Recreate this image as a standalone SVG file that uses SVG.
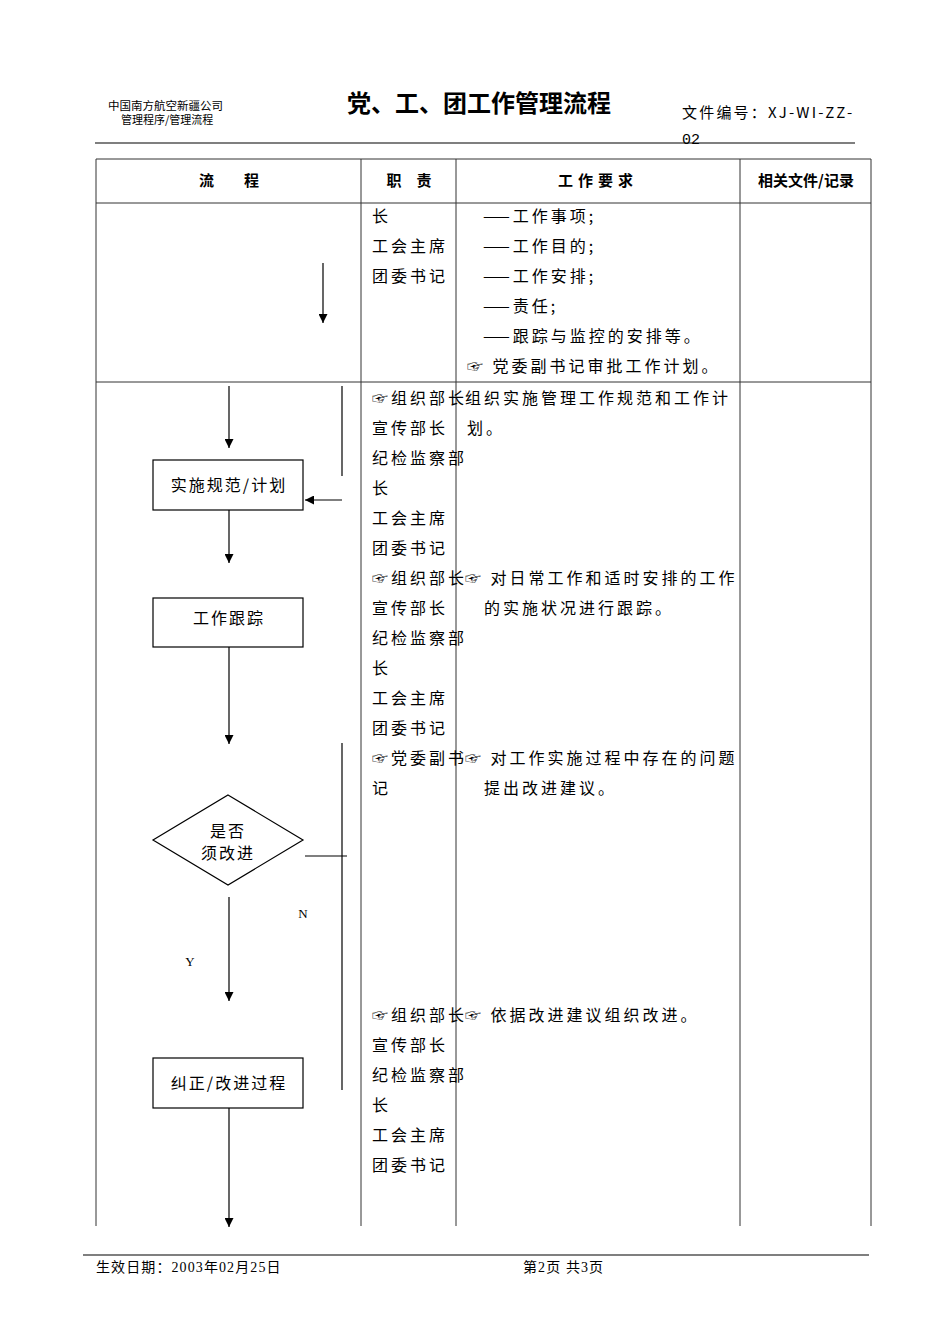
<svg xmlns="http://www.w3.org/2000/svg" width="950" height="1344" viewBox="0 0 950 1344">
<style>
.t{font-family:"Noto Sans CJK SC","DejaVu Sans",sans-serif;font-size:16px;letter-spacing:3px;fill:#000}
.h{font-family:"Noto Sans CJK SC",sans-serif;font-size:15px;font-weight:bold;fill:#000}
.s{font-family:"Liberation Serif","Noto Sans CJK SC",serif;font-size:13px;fill:#000}
.f{font-family:"Liberation Serif","Noto Sans CJK SC",serif;font-size:14px;letter-spacing:1.1px;fill:#000}
.grid{stroke:#333;stroke-width:1;fill:none}
.ln{stroke:#000;stroke-width:1.2;fill:none}
.box{fill:#fff;stroke:#000;stroke-width:1.2}
.bt{font-family:"Noto Sans CJK SC",sans-serif;font-size:16px;letter-spacing:2px;fill:#000;text-anchor:middle}
</style>
<defs>
<marker id="ah" viewBox="0 0 10 10" refX="10" refY="5" markerWidth="9" markerHeight="9" markerUnits="userSpaceOnUse" orient="auto"><path d="M0,0 L10,5 L0,10 z" fill="#000"/></marker>
</defs>
<g id="header">
<text x="108" y="110" style="font-family:'Noto Sans CJK SC',sans-serif;font-size:11.5px">中国南方航空新疆公司</text>
<text x="121" y="124" style="font-family:'Noto Sans CJK SC',sans-serif;font-size:11px">管理程序/管理流程</text>
<text x="479" y="112" text-anchor="middle" style="font-family:'Noto Sans CJK SC',sans-serif;font-size:24px;font-weight:bold">党、工、团工作管理流程</text>
<text x="682" y="118" style="font-family:'Noto Sans CJK SC','Liberation Mono',monospace;font-size:15px;letter-spacing:2.2px">文件编号：XJ-WI-ZZ-</text>
<text x="682" y="144" style="font-family:'Liberation Mono',monospace;font-size:15px">02</text>
<line x1="95" y1="143" x2="855" y2="143" stroke="#000" stroke-width="1.2"/>
</g>
<g id="table">
<line class="grid" x1="96" y1="159" x2="871" y2="159"/>
<line class="grid" x1="96" y1="203" x2="871" y2="203"/>
<line class="grid" x1="96" y1="382" x2="871" y2="382"/>
<line class="grid" x1="96" y1="159" x2="96" y2="1226"/>
<line class="grid" x1="361" y1="159" x2="361" y2="1226"/>
<line class="grid" x1="456" y1="159" x2="456" y2="1226" stroke="#777"/>
<line class="grid" x1="740" y1="159" x2="740" y2="1226" stroke="#777"/>
<line class="grid" x1="871" y1="159" x2="871" y2="1226"/>
<text class="h" x="229" y="186" text-anchor="middle">流　　程</text>
<text class="h" x="409" y="186" text-anchor="middle">职　责</text>
<text class="h" x="598" y="186" text-anchor="middle" letter-spacing="5">工作要求</text>
<text class="h" x="806" y="186" text-anchor="middle">相关文件/记录</text>
</g>
<g id="col2">
<text class="t" x="372" y="222">长</text>
<text class="t" x="372" y="252">工会主席</text>
<text class="t" x="372" y="282">团委书记</text>
<text class="t" x="372" y="404">☞组织部长</text>
<text class="t" x="372" y="434">宣传部长</text>
<text class="t" x="372" y="464">纪检监察部</text>
<text class="t" x="372" y="494">长</text>
<text class="t" x="372" y="524">工会主席</text>
<text class="t" x="372" y="554">团委书记</text>
<text class="t" x="372" y="584">☞组织部长</text>
<text class="t" x="372" y="614">宣传部长</text>
<text class="t" x="372" y="644">纪检监察部</text>
<text class="t" x="372" y="674">长</text>
<text class="t" x="372" y="704">工会主席</text>
<text class="t" x="372" y="734">团委书记</text>
<text class="t" x="372" y="764">☞党委副书</text>
<text class="t" x="372" y="794">记</text>
<text class="t" x="372" y="1021">☞组织部长</text>
<text class="t" x="372" y="1051">宣传部长</text>
<text class="t" x="372" y="1081">纪检监察部</text>
<text class="t" x="372" y="1111">长</text>
<text class="t" x="372" y="1141">工会主席</text>
<text class="t" x="372" y="1171">团委书记</text>
</g>
<g id="col3">
<text class="t" x="483" y="222">——工作事项;</text>
<text class="t" x="483" y="252">——工作目的;</text>
<text class="t" x="483" y="282">——工作安排;</text>
<text class="t" x="483" y="312">——责任;</text>
<text class="t" x="483" y="342">——跟踪与监控的安排等。</text>
<text class="t" x="467" y="372">☞ 党委副书记审批工作计划。</text>
<text class="t" x="465" y="404">组织实施管理工作规范和工作计</text>
<text class="t" x="467" y="434">划。</text>
<text class="t" x="465" y="584">☞  对日常工作和适时安排的工作</text>
<text class="t" x="484" y="614">的实施状况进行跟踪。</text>
<text class="t" x="465" y="764">☞  对工作实施过程中存在的问题</text>
<text class="t" x="484" y="794">提出改进建议。</text>
<text class="t" x="465" y="1021">☞  依据改进建议组织改进。</text>
</g>
<g id="connectors">
<line class="ln" x1="323" y1="263" x2="323" y2="323" marker-end="url(#ah)"/>
<line class="ln" x1="229" y1="386" x2="229" y2="448" marker-end="url(#ah)"/>
<line class="ln" x1="342" y1="386" x2="342" y2="476"/>
<line class="ln" x1="342" y1="500" x2="305" y2="500" marker-end="url(#ah)"/>
<line class="ln" x1="229" y1="510" x2="229" y2="563" marker-end="url(#ah)"/>
<line class="ln" x1="229" y1="647" x2="229" y2="744" marker-end="url(#ah)"/>
<line class="ln" x1="305" y1="856" x2="347" y2="856"/>
<line class="ln" x1="342" y1="743" x2="342" y2="1090"/>
<line class="ln" x1="229" y1="897" x2="229" y2="1001" marker-end="url(#ah)"/>
<line class="ln" x1="229" y1="1108" x2="229" y2="1227" marker-end="url(#ah)"/>
<text x="303" y="918" text-anchor="middle" class="s">N</text>
<text x="190" y="966" text-anchor="middle" class="s">Y</text>
</g>
<g id="n1"><rect class="box" x="153" y="460" width="150" height="50"/><text class="bt" x="229" y="491">实施规范/计划</text></g>
<g id="n2"><rect class="box" x="153" y="598" width="150" height="49"/><text class="bt" x="229" y="624">工作跟踪</text></g>
<g id="n3"><polygon class="box" points="228,795 303,840 228,885 153,840"/><text class="bt" x="228" y="837" letter-spacing="0.5" font-size="14">是否</text><text class="bt" x="228" y="859" letter-spacing="0.5" font-size="14">须改进</text></g>
<g id="n4"><rect class="box" x="153" y="1058" width="150" height="50"/><text class="bt" x="229" y="1089">纠正/改进过程</text></g>
<g id="footer">
<line x1="83" y1="1255" x2="869" y2="1255" stroke="#000" stroke-width="1.2"/>
<text class="f" x="96" y="1272">生效日期：2003年02月25日</text>
<text class="f" x="523" y="1272">第2页 共3页</text>
</g>
</svg>
